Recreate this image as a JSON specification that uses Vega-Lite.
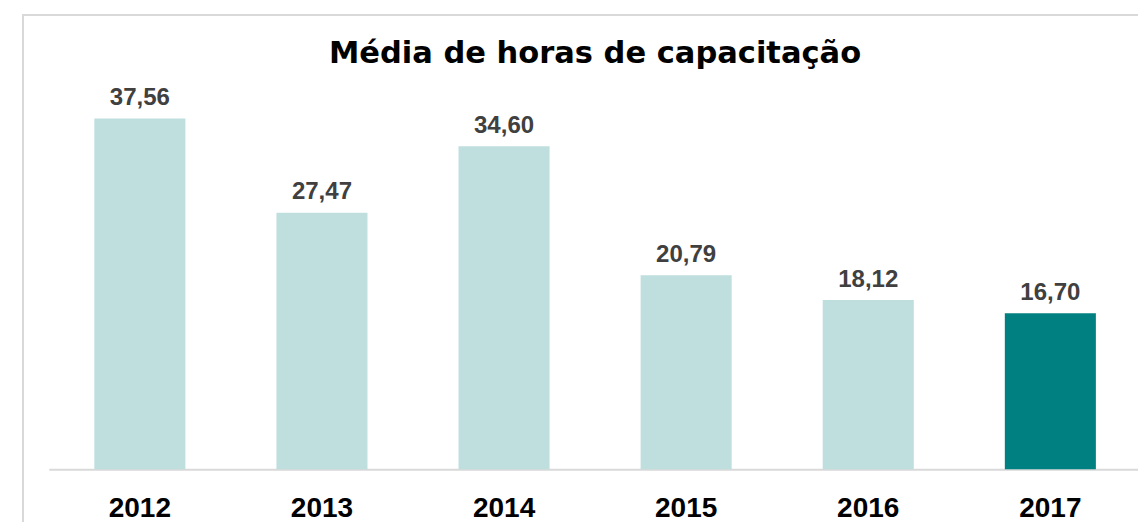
{
  "$schema": "https://vega.github.io/schema/vega-lite/v6.json",
  "autosize": {"type": "none"},
  "padding": {"left": 23, "top": 15, "right": -15, "bottom": -15},
  "width": 1130,
  "height": 522,
  "background": "white",
  "title": {
    "text": "Média de horas de capacitação",
    "font": "DejaVu Sans",
    "fontSize": 30.5,
    "fontWeight": "bold",
    "color": "#000000",
    "anchor": "middle",
    "frame": "group",
    "offset": -54,
    "dx": 7
  },
  "data": {
    "values": [
      {"ano": "2012", "media": 37.56},
      {"ano": "2013", "media": 27.47},
      {"ano": "2014", "media": 34.60},
      {"ano": "2015", "media": 20.79},
      {"ano": "2016", "media": 18.12},
      {"ano": "2017", "media": 16.70}
    ]
  },
  "transform": [
    {"calculate": "replace(format(datum.media, '.2f'), '.', ',')", "as": "rotulo"}
  ],
  "encoding": {
    "x": {
      "field": "ano",
      "type": "nominal",
      "sort": null,
      "scale": {"range": [25.8, 1118.4], "paddingInner": 0.5, "paddingOuter": 0.25},
      "axis": {
        "title": null,
        "orient": "bottom",
        "offset": -67.7,
        "domainColor": "#D9D9D9",
        "domainWidth": 2,
        "ticks": false,
        "tickSize": 0,
        "labelPadding": 47.2,
        "labelBaseline": "alphabetic",
        "labelFont": "Liberation Sans",
        "labelFontWeight": "bold",
        "labelFontSize": 28,
        "labelColor": "#000000",
        "labelAngle": 0,
        "grid": false
      }
    },
    "y": {
      "field": "media",
      "type": "quantitative",
      "scale": {"domain": [0, 40], "range": [454.3, 80.8]},
      "axis": null
    }
  },
  "layer": [
    {
      "mark": {"type": "bar"},
      "encoding": {
        "color": {
          "condition": {"test": "datum.ano === '2017'", "value": "#008080"},
          "value": "#BFDEDE"
        }
      }
    },
    {
      "mark": {
        "type": "text",
        "baseline": "alphabetic",
        "dy": -13.5,
        "font": "Liberation Sans",
        "fontWeight": "bold",
        "fontSize": 24,
        "color": "#404040"
      },
      "encoding": {
        "text": {"field": "rotulo", "type": "nominal"}
      }
    }
  ],
  "config": {"view": {"stroke": "#D9D9D9", "strokeWidth": 2}}
}
